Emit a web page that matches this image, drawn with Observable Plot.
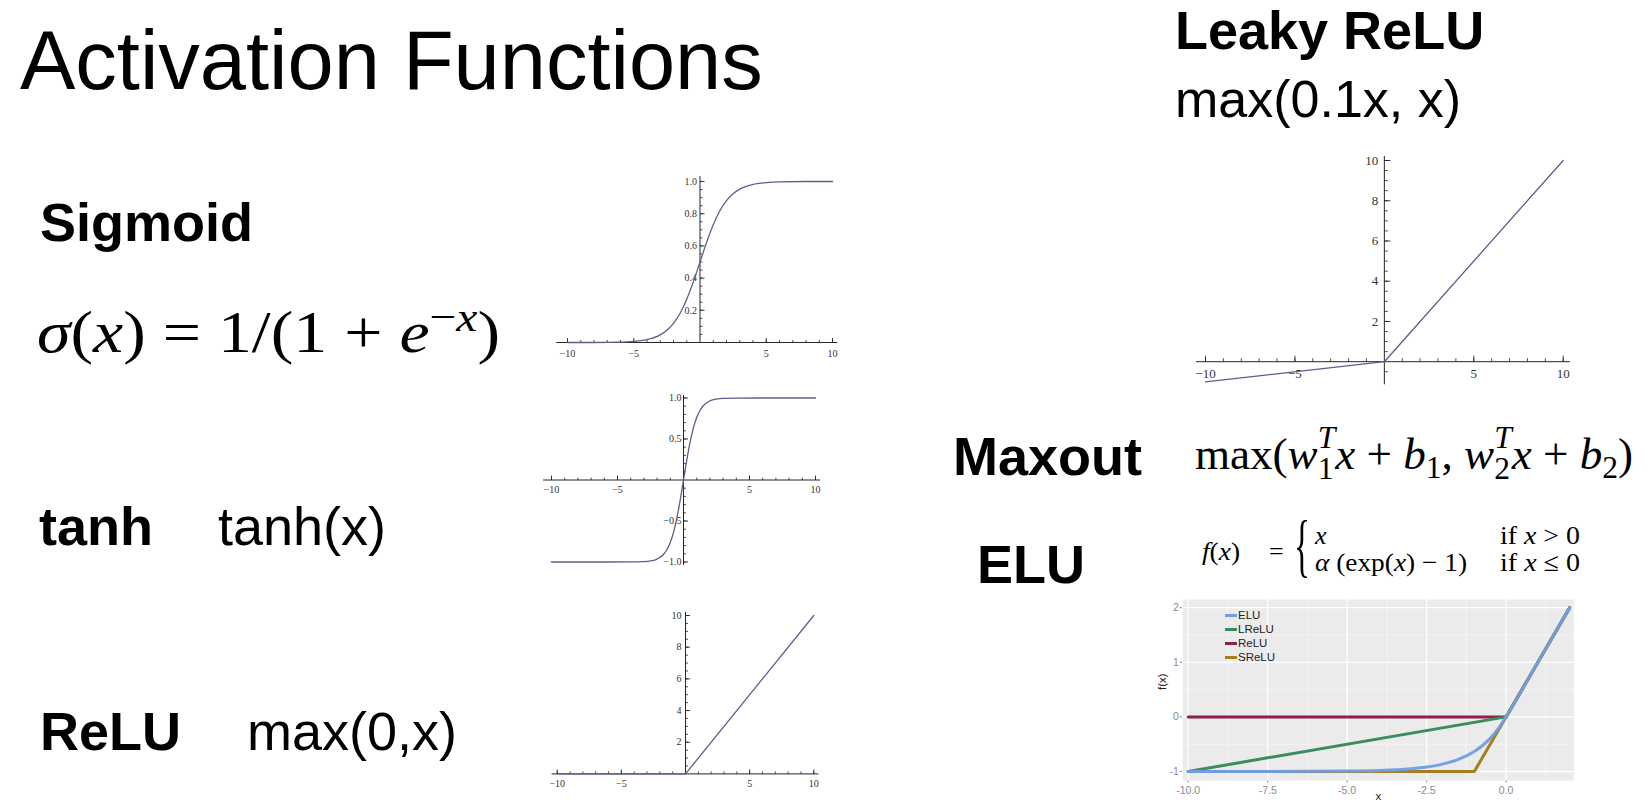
<!DOCTYPE html>
<html><head><meta charset="utf-8">
<script src="https://cdn.jsdelivr.net/npm/d3@7"></script>
<script src="https://cdn.jsdelivr.net/npm/@observablehq/plot@0.6"></script>
<style>
html,body{margin:0;padding:0;background:#fff;width:1650px;height:810px;overflow:hidden;}
#slide{position:relative;width:1650px;height:810px;}
.t{position:absolute;white-space:nowrap;line-height:1;color:#000;}
.sans{font-family:"Liberation Sans",Arial,sans-serif;}
.bold{font-weight:bold;}
.serif{font-family:"Liberation Serif","Times New Roman",serif;}
.t i{font-style:italic;}
.t sup{font-size:0.7em;vertical-align:0.5em;line-height:0;}
.t sub{font-size:0.7em;vertical-align:-0.3em;line-height:0;}
.ss{display:inline-block;vertical-align:-0.32em;font-size:0.7em;line-height:1.0;}
.ss>span{display:block;}
.key{position:absolute;height:3px;width:12px;}
svg.plot, svg{position:absolute;}
</style></head><body><div id="slide"></div>
<script>
// ---------- DATA ----------
// Sigmoid curve
const sigmoidX = [-10,-8,-6,-5,-4,-3,-2.5,-2,-1.5,-1,-0.5,0,0.5,1,1.5,2,2.5,3,4,5,6,8,10];
const sigmoidY = [0,0,0.002,0.007,0.018,0.047,0.076,0.119,0.182,0.269,0.378,0.5,0.622,0.731,0.818,0.881,0.924,0.953,0.982,0.993,0.998,1,1];
// tanh curve
const tanhX = [-10,-6,-4,-3,-2.5,-2,-1.5,-1.25,-1,-0.75,-0.5,-0.25,0,0.25,0.5,0.75,1,1.25,1.5,2,2.5,3,4,6,10];
const tanhY = [-1,-1,-0.999,-0.995,-0.987,-0.964,-0.905,-0.848,-0.762,-0.635,-0.462,-0.245,0,0.245,0.462,0.635,0.762,0.848,0.905,0.964,0.987,0.995,0.999,1,1];
// ReLU
const reluX = [-10,0,10];
const reluY = [0,0,10];
// Leaky ReLU
const leakyX = [-10,0,10];
const leakyY = [-1,0,10];

// Mathematica-style axis ticks
const mmXMinor = [-10,-9,-8,-7,-6,-5,-4,-3,-2,-1,1,2,3,4,5,6,7,8,9,10];
const mmXMajor = [-10,-5,5,10];
const mmXLabels = [-10,-5,5,10];
const sigYMinor = [0.05,0.1,0.15,0.2,0.25,0.3,0.35,0.4,0.45,0.5,0.55,0.6,0.65,0.7,0.75,0.8,0.85,0.9,0.95,1.0];
const sigYMajor = [0.2,0.4,0.6,0.8,1.0];
const sigYLabels = [0.2,0.4,0.6,0.8,1.0];
const tanhYMinor = [-1,-0.9,-0.8,-0.7,-0.6,-0.5,-0.4,-0.3,-0.2,-0.1,0.1,0.2,0.3,0.4,0.5,0.6,0.7,0.8,0.9,1];
const tanhYMajor = [-1,-0.5,0.5,1];
const tanhYLabels = [-1,-0.5,0.5,1];
const reluYMinor = [0.5,1,1.5,2,2.5,3,3.5,4,4.5,5,5.5,6,6.5,7,7.5,8,8.5,9,9.5,10];
const reluYMajor = [2,4,6,8,10];
const reluYLabels = [2,4,6,8,10];
const leakyYMinor = [-0.5,0.5,1,1.5,2,2.5,3,3.5,4,4.5,5,5.5,6,6.5,7,7.5,8,8.5,9,9.5,10];
const leakyYMajor = [2,4,6,8,10];
const leakyYLabels = [2,4,6,8,10];

// ELU comparison chart (ggplot style)
const eluNames = ["ELU","LReLU","ReLU","SReLU"];
const eluColors = ["#6f9ee6","#3b8c5c","#8e1f4f","#a67e1e"];
const eluFnX = [-10,-7.5,-5,-4,-3,-2.5,-2,-1.5,-1,-0.75,-0.5,-0.25,0,1,2];
const eluFnY = [-1,-0.999,-0.993,-0.982,-0.95,-0.918,-0.865,-0.777,-0.632,-0.528,-0.393,-0.221,0,1,2];
const lreluFnX = [-10,0,2];
const lreluFnY = [-1,0,2];
const reluFnX = [-10,0,2];
const reluFnY = [0,0,2];
const sreluFnX = [-10,-1,0,2];
const sreluFnY = [-1,-1,0,2];
const eluXTicks = [-10,-7.5,-5,-2.5,0];
const eluXMinor = [-8.75,-6.25,-3.75,-1.25,1.25];
const eluYTicks = [-1,0,1,2];
const eluYMinor = [-0.5,0.5,1.5];

// ---------- TEXT ----------
const slide = document.getElementById("slide");
function put(html, x, baseline, fs, cls, fitW) {
  const d = document.createElement("div");
  d.className = "t " + cls;
  d.style.left = x + "px";
  d.style.top = "0px";
  d.style.fontSize = fs + "px";
  d.innerHTML = html;
  const probe = document.createElement("span");
  probe.style.cssText = "display:inline-block;width:0;height:0;";
  d.appendChild(probe);
  slide.appendChild(d);
  const r = d.getBoundingClientRect();
  const off = probe.getBoundingClientRect().top - r.top;
  d.style.top = (baseline - off) + "px";
  if (fitW) {
    d.style.transformOrigin = "0 0";
    d.style.transform = `scaleX(${fitW / r.width})`;
  }
  return d;
}

put("Activation Functions", 20, 89, 83, "sans");
put("Sigmoid", 40, 241, 54, "sans bold");
put("<i>σ</i>(<i>x</i>) = 1/(1 + <i>e</i><sup>−<i>x</i></sup>)", 37, 352, 60, "serif", 463);
put("tanh", 39, 545, 54, "sans bold");
put("tanh(x)", 218, 545, 54, "sans");
put("ReLU", 40, 750, 54, "sans bold");
put("max(0,x)", 247, 750, 54, "sans");
put("Leaky ReLU", 1175, 49, 54, "sans bold");
put("max(0.1x, x)", 1175, 117, 52, "sans");
put("Maxout", 953, 475, 54, "sans bold");
put("ELU", 977, 583, 54, "sans bold");
put("max(<i>w</i><span class=\"ss\"><span><i>T</i></span><span>1</span></span><i>x</i> + <i>b</i><sub>1</sub>, <i>w</i><span class=\"ss\"><span><i>T</i></span><span>2</span></span><i>x</i> + <i>b</i><sub>2</sub>)", 1195, 469, 44, "serif", 438);
put("<i>f</i>(<i>x</i>)", 1202, 560, 26, "serif", 38);
put("=", 1269, 560, 26, "serif");
put("{", 1294, 569, 70, "serif", 16);
put("<i>x</i>", 1315, 544, 26, "serif");
put("<i>α</i> (exp(<i>x</i>) − 1)", 1315, 571, 26, "serif", 152);
put("if <i>x</i> &gt; 0", 1500, 544, 26, "serif", 80);
put("if <i>x</i> ≤ 0", 1500, 571, 26, "serif", 80);

// ---------- MATHEMATICA-STYLE PLOTS ----------
const AXIS = "#262626", CURVE = "#5d5d8c", LABEL = "#333";
const tickUp = {draw(ctx, size) { const l = Math.sqrt(size / Math.PI); ctx.moveTo(0, 0); ctx.lineTo(0, -l); }};
const tickRight = {draw(ctx, size) { const l = Math.sqrt(size / Math.PI); ctx.moveTo(0, 0); ctx.lineTo(l, 0); }};
const minusFmt = s => s.replace("-", "−");

function mmPlot(c) {
  const rows = c.xs.map((x, i) => ({x, y: c.ys[i]}));
  const svg = Plot.plot({
    width: c.width, height: c.height,
    marginLeft: c.mL, marginRight: c.mR, marginTop: c.mT, marginBottom: c.mB,
    x: {domain: c.xDomain, axis: null},
    y: {domain: c.yDomain, axis: null},
    style: {background: "transparent", overflow: "visible", fontFamily: "Liberation Serif, serif"},
    marks: [
      Plot.ruleY([0], {x1: c.xExt[0], x2: c.xExt[1], stroke: AXIS, strokeWidth: 1}),
      Plot.ruleX([0], {y1: c.yExt[0], y2: c.yExt[1], stroke: AXIS, strokeWidth: 1}),
      Plot.dot(mmXMinor, {x: d => d, y: 0, r: c.minLen, symbol: tickUp, stroke: AXIS, fill: "none", strokeWidth: 0.8}),
      Plot.dot(mmXMajor, {x: d => d, y: 0, r: c.majLen, symbol: tickUp, stroke: AXIS, fill: "none", strokeWidth: 0.9}),
      Plot.dot(c.yMinor, {x: 0, y: d => d, r: c.minLen, symbol: tickRight, stroke: AXIS, fill: "none", strokeWidth: 0.8}),
      Plot.dot(c.yMajor, {x: 0, y: d => d, r: c.majLen, symbol: tickRight, stroke: AXIS, fill: "none", strokeWidth: 0.9}),
      Plot.text(mmXLabels, {x: d => d, y: 0, text: d => minusFmt(String(d)), dy: c.xdy, fontSize: c.fs, fill: LABEL}),
      Plot.text(c.yLabels, {x: 0, y: d => d, text: c.yFmt, textAnchor: "end", dx: c.ydx, fontSize: c.fs, fill: LABEL}),
      Plot.line(rows, {x: "x", y: "y", stroke: CURVE, strokeWidth: 1.3, curve: c.curve || "linear"})
    ]
  });
  svg.style.position = "absolute";
  svg.style.left = c.left + "px";
  svg.style.top = c.top + "px";
  slide.appendChild(svg);
}

mmPlot({xs: sigmoidX, ys: sigmoidY, curve: "monotone-x",
  left: 545, top: 170, width: 300, height: 190, mL: 22, mR: 13, mT: 11, mB: 18,
  xDomain: [-10, 10], yDomain: [0, 1], xExt: [-10.8, 10.4], yExt: [0, 1.03],
  yMinor: sigYMinor, yMajor: sigYMajor, yLabels: sigYLabels, yFmt: d => d.toFixed(1),
  fs: 10, xdy: 11, ydx: -3, majLen: 4.5, minLen: 2.5});

mmPlot({xs: tanhX, ys: tanhY, curve: "monotone-x",
  left: 530, top: 385, width: 300, height: 190, mL: 21, mR: 15, mT: 12.5, mB: 13.5,
  xDomain: [-10, 10], yDomain: [-1, 1], xExt: [-10.6, 10.4], yExt: [-1.04, 1.03],
  yMinor: tanhYMinor, yMajor: tanhYMajor, yLabels: tanhYLabels, yFmt: d => minusFmt(d.toFixed(1)),
  fs: 10, xdy: 10, ydx: -2, majLen: 4.5, minLen: 2.5});

mmPlot({xs: reluX, ys: reluY,
  left: 535, top: 600, width: 295, height: 200, mL: 21.7, mR: 16.7, mT: 15, mB: 26.6,
  xDomain: [-10, 10], yDomain: [0, 10], xExt: [-10.4, 10.4], yExt: [0, 10.2],
  yMinor: reluYMinor, yMajor: reluYMajor, yLabels: reluYLabels, yFmt: d => String(d),
  fs: 10, xdy: 10, ydx: -4, majLen: 4.5, minLen: 2.5});

mmPlot({xs: leakyX, ys: leakyY,
  left: 1180, top: 145, width: 405, height: 250, mL: 25, mR: 22.3, mT: 15, mB: 33.8,
  xDomain: [-10, 10], yDomain: [0, 10], xExt: [-10.5, 10.4], yExt: [-1.15, 10.2],
  yMinor: leakyYMinor, yMajor: leakyYMajor, yLabels: leakyYLabels, yFmt: d => String(d),
  fs: 13, xdy: 12, ydx: -6, majLen: 6, minLen: 3.5});

// ---------- ELU COMPARISON (ggplot style) ----------
function rowsOf(xs, ys) { return xs.map((x, i) => ({x, y: ys[i]})); }
const eluSvg = Plot.plot({
  width: 455, height: 215,
  marginLeft: 42.3, marginRight: 21.7, marginTop: 7, marginBottom: 27,
  x: {domain: [-10.17, 2.13], ticks: eluXTicks, tickFormat: d => d.toFixed(1), tickSize: 2.5, tickPadding: 3.5, label: null},
  y: {domain: [-1.165, 2.15], ticks: eluYTicks, tickFormat: d => String(d), tickSize: 2.5, tickPadding: 1.5, label: null},
  style: {background: "transparent", overflow: "visible", fontFamily: "Liberation Sans, Arial, sans-serif", fontSize: "10.5px", color: "#8a8a8a"},
  marks: [
    Plot.frame({fill: "#ebebeb", stroke: "none"}),
    Plot.ruleX(eluXMinor, {stroke: "#fafafa", strokeWidth: 0.6}),
    Plot.ruleY(eluYMinor, {stroke: "#fafafa", strokeWidth: 0.6}),
    Plot.ruleX(eluXTicks, {stroke: "#fff", strokeWidth: 1.3}),
    Plot.ruleY(eluYTicks, {stroke: "#fff", strokeWidth: 1.3}),
    Plot.line(rowsOf(reluFnX, reluFnY), {x: "x", y: "y", stroke: eluColors[2], strokeWidth: 3}),
    Plot.line(rowsOf(lreluFnX, lreluFnY), {x: "x", y: "y", stroke: eluColors[1], strokeWidth: 3}),
    Plot.line(rowsOf(sreluFnX, sreluFnY), {x: "x", y: "y", stroke: eluColors[3], strokeWidth: 3}),
    Plot.line(rowsOf(eluFnX, eluFnY), {x: "x", y: "y", stroke: eluColors[0], strokeWidth: 3, curve: "monotone-x", strokeOpacity: 0.95}),
    Plot.text(["x"], {frameAnchor: "bottom", dy: 19, text: d => d, fill: "#222", fontSize: 11.5}),
    Plot.text(["f(x)"], {frameAnchor: "left", dx: -20, rotate: -90, text: d => d, fill: "#222", fontSize: 11.5})
  ]
});
eluSvg.style.position = "absolute";
eluSvg.style.left = "1140px";
eluSvg.style.top = "592px";
slide.appendChild(eluSvg);

// legend (inside the panel, top-left)
const legendRowY = [615, 629.3, 643.3, 657.3];
eluNames.forEach((name, i) => {
  const k = document.createElement("div");
  k.className = "key";
  k.style.left = "1225px";
  k.style.top = (legendRowY[i] - 1.5) + "px";
  k.style.background = eluColors[i];
  slide.appendChild(k);
  const t = put(name, 1238, legendRowY[i] + 4, 11.5, "sans");
  t.style.color = "#222";
});
</script>
</body></html>
